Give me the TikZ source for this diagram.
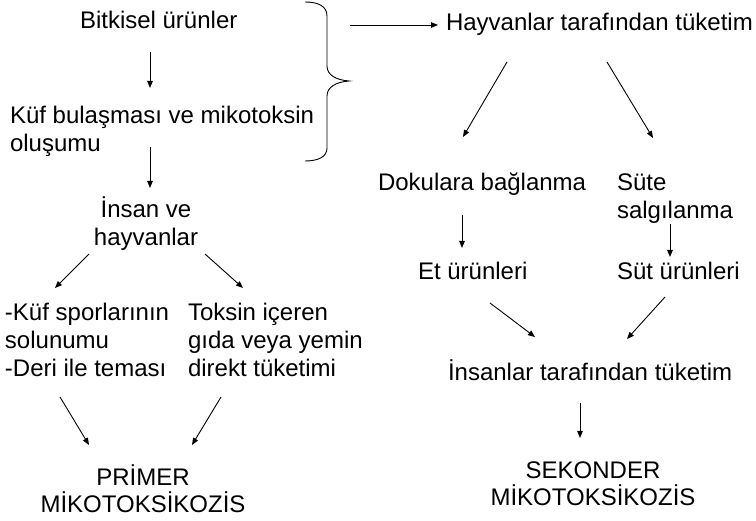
\documentclass[tikz,border=0pt]{standalone}
\usepackage{fontspec}
\setmainfont{Liberation Sans}
\usetikzlibrary{arrows.meta}
\tikzset{
  txt/.style={inner sep=0pt, outer sep=0pt, font=\fontsize{24}{28}\selectfont},
  txtl/.style={txt, anchor=base west, align=left},
  txtc/.style={txt, anchor=base, align=center},
  arr/.style={line width=0.9pt, -{Triangle[length=7pt,width=5.5pt]}},
  brace/.style={line width=0.9pt}
}
\begin{document}
\begin{tikzpicture}[x=1pt,y=-1pt]
\useasboundingbox (0,0) rectangle (756,521);
% left column (base anchor = baseline of last line)
\node[txtl] (bit) at (80,29) {Bitkisel ürünler};
\node[txtl] (kuf) at (10,152) {Küf bulaşması ve mikotoksin\\oluşumu};
\node[txtc] (ins) at (146,246) {İnsan ve\\hayvanlar};
\node[txtl] (spor) at (5,377) {-Küf sporlarının\\solunumu\\-Deri ile teması};
\node[txtl] (tok) at (188,377) {Toksin içeren\\gıda veya yemin\\direkt tüketimi};
\node[txtc] (prim) at (143,513) {PRİMER\\MİKOTOKSİKOZİS};
% right column
\node[txtl] (hay) at (446,31) {Hayvanlar tarafından tüketim};
\node[txtl] (dok) at (378,191) {Dokulara bağlanma};
\node[txtl] (sut) at (617,219) {Süte\\salgılanma};
\node[txtl] (et) at (418,280) {Et ürünleri};
\node[txtl] (sutu) at (617,280) {Süt ürünleri};
\node[txtl] (insl) at (448,381) {İnsanlar tarafından tüketim};
\node[txtc] (sek) at (593,506) {SEKONDER\\MİKOTOKSİKOZİS};
% brace
\draw[brace] (305,2) .. controls (318,2) and (327,6) .. (327,16) -- (327,66)
  .. controls (327,75) and (336,80) .. (349,81)
  .. controls (336,82) and (327,87) .. (327,96) -- (327,148)
  .. controls (327,157) and (318,161) .. (305,161);
% arrow end points
\coordinate (a1s) at (150,52);  \coordinate (a1e) at (150,88);
\coordinate (a2s) at (150,147); \coordinate (a2e) at (150,188);
\coordinate (a3s) at (89,254);  \coordinate (a3e) at (55,288);
\coordinate (a4s) at (205,254); \coordinate (a4e) at (243,288);
\coordinate (a5s) at (60,397);  \coordinate (a5e) at (89,445);
\coordinate (a6s) at (221,397); \coordinate (a6e) at (192,445);
\coordinate (b0s) at (350,25);  \coordinate (b0e) at (438,25);
\coordinate (b1s) at (507,62);  \coordinate (b1e) at (463,137);
\coordinate (b2s) at (607,62);  \coordinate (b2e) at (653,138);
\coordinate (b3s) at (462,215); \coordinate (b3e) at (462,248);
\coordinate (b4s) at (670,224); \coordinate (b4e) at (670,257);
\coordinate (b5s) at (490,303); \coordinate (b5e) at (535,337);
\coordinate (b6s) at (665,297); \coordinate (b6e) at (627,339);
\coordinate (b7s) at (580,403); \coordinate (b7e) at (580,438);
\draw[arr] (a1s) -- (a1e);
\draw[arr] (a2s) -- (a2e);
\draw[arr] (a3s) -- (a3e);
\draw[arr] (a4s) -- (a4e);
\draw[arr] (a5s) -- (a5e);
\draw[arr] (a6s) -- (a6e);
\draw[arr] (b0s) -- (b0e);
\draw[arr] (b1s) -- (b1e);
\draw[arr] (b2s) -- (b2e);
\draw[arr] (b3s) -- (b3e);
\draw[arr] (b4s) -- (b4e);
\draw[arr] (b5s) -- (b5e);
\draw[arr] (b6s) -- (b6e);
\draw[arr] (b7s) -- (b7e);
\end{tikzpicture}
\end{document}
